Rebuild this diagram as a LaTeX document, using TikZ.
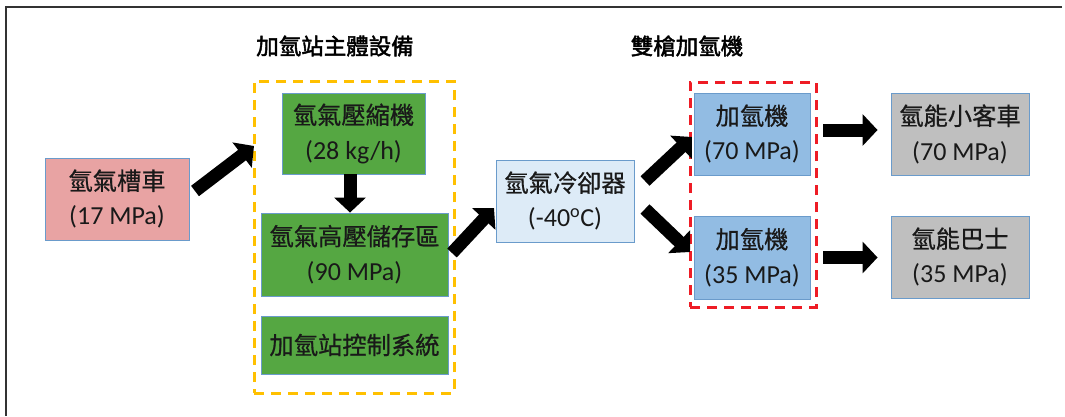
\documentclass[tikz,border=0pt]{standalone}
\usepackage{fontspec}
\setmainfont{Carlito}
\newfontfamily\cjk{Noto Sans CJK TC}[FakeBold=0.6]
\newfontfamily\cjkbold{Noto Sans CJK TC}[FakeBold=2]
\usetikzlibrary{arrows.meta}
\definecolor{framec}{HTML}{333333}
\definecolor{boxedge}{HTML}{6A9BCB}
\definecolor{pinkf}{HTML}{E8A3A3}
\definecolor{greenf}{HTML}{55A742}
\definecolor{coolf}{HTML}{DDEBF7}
\definecolor{dispf}{HTML}{92BCE3}
\definecolor{grayf}{HTML}{BFBFBF}
\definecolor{yellowd}{HTML}{FFC000}
\definecolor{redd}{HTML}{EE1C25}
\newcommand\zh[1]{{\cjk\fontsize{24.3}{35}\selectfont #1}}
\tikzset{
  box/.style={draw=boxedge, line width=0.9pt, inner sep=0pt, align=center,
    font=\fontsize{26}{35}\selectfont, text=black!90},
  blockarrow/.style={line width=13pt, draw=black,
    -{Triangle[length=15pt, width=31pt]}},
  groupbox/.style={line width=3pt, dash pattern=on 10pt off 7pt, inner sep=0pt},
  titletext/.style={font=\cjkbold\fontsize{22.5}{26}\selectfont, text=black, inner sep=0pt}
}
\begin{document}
\begin{tikzpicture}[x=1pt,y=-1pt]
\useasboundingbox (0,0) rectangle (1065,416);
\fill[white] (0,0) rectangle (1065,416);
% frame
\draw[framec, line width=2.2pt] (1062,7) -- (6,7) -- (6,416);

% group frames
\node[groupbox, draw=yellowd, minimum width=200pt, minimum height=312pt] (grpA) at (354,237) {};
\node[groupbox, draw=redd, minimum width=126pt, minimum height=225pt] (grpB) at (753,194.5) {};

% titles
\node[titletext] (titleA) at (335,46) {加氫站主體設備};
\node[titletext] (titleB) at (687,46) {雙槍加氫機};

% boxes
\node[box, fill=pinkf, minimum width=144pt, minimum height=82pt] (tank) at (117,199) {\zh{氫氣槽車}\\(17 MPa)};
\node[box, fill=greenf, minimum width=143pt, minimum height=81pt] (comp) at (353.5,133.5) {\zh{氫氣壓縮機}\\(28 kg/h)};
\node[box, fill=greenf, minimum width=187pt, minimum height=83pt] (stor) at (354.5,254.5) {\zh{氫氣高壓儲存區}\\(90 MPa)};
\node[box, fill=greenf, minimum width=187pt, minimum height=58pt] (ctrl) at (354.5,345) {\zh{加氫站控制系統}};
\node[box, fill=coolf, minimum width=138pt, minimum height=82pt] (cool) at (565,201) {\zh{氫氣冷卻器}\\(-40\textsuperscript{o}C)};
\node[box, fill=dispf, minimum width=116pt, minimum height=82pt] (d70) at (752,134) {\zh{加氫機}\\(70 MPa)};
\node[box, fill=dispf, minimum width=116pt, minimum height=83pt] (d35) at (752,257.5) {\zh{加氫機}\\(35 MPa)};
\node[box, fill=grayf, minimum width=138pt, minimum height=82pt] (car) at (960,134) {\zh{氫能小客車}\\(70 MPa)};
\node[box, fill=grayf, minimum width=138pt, minimum height=82pt] (bus) at (960,257) {\zh{氫能巴士}\\(35 MPa)};

% arrow end points
\coordinate (a1s) at (195,191);
\coordinate (a1e) at (254,146);
\coordinate (a3s) at (452,253);
\coordinate (a3e) at (494,208);
\coordinate (a4s) at (645,181);
\coordinate (a4e) at (692,137);
\coordinate (a5s) at (645,209);
\coordinate (a5e) at (690,252);

% arrows
\draw[blockarrow] (a1s) -- (a1e);
\draw[blockarrow] ([xshift=-3.5pt]comp.south) -- ([xshift=-4.5pt]stor.north);
\draw[blockarrow] (a3s) -- (a3e);
\draw[blockarrow] (a4s) -- (a4e);
\draw[blockarrow] (a5s) -- (a5e);
\draw[blockarrow, shorten <=13pt, shorten >=13pt] ([yshift=4pt]d70.east) -- ([yshift=4pt]d70.east -| car.west);
\draw[blockarrow, shorten <=13pt, shorten >=13pt] (d35.east) -- (d35.east -| bus.west);
\end{tikzpicture}
\end{document}
